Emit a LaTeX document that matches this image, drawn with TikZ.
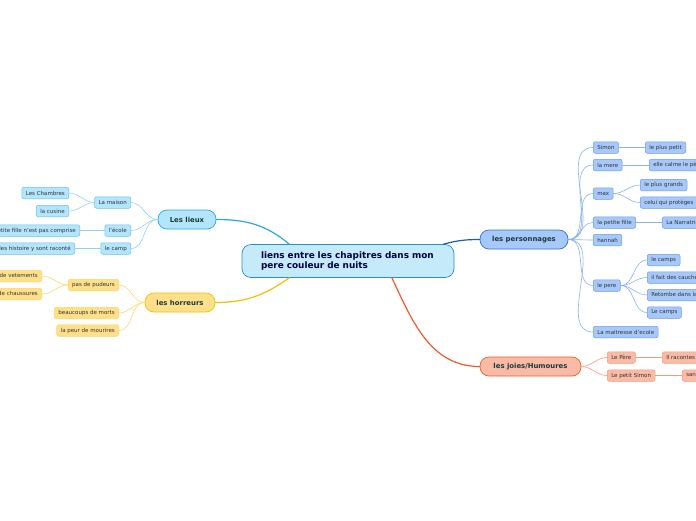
\documentclass[tikz,border=0pt]{standalone}
\usepackage{fontspec}
\setmainfont{DejaVu Sans}
\usetikzlibrary{positioning}
\definecolor{centrefill}{HTML}{C5EBFB}
\definecolor{centredraw}{HTML}{2F8AD0}
\definecolor{lieuxfill}{HTML}{B3E5FC}
\definecolor{lieuxdraw}{HTML}{2AA8E0}
\definecolor{lieuxline}{HTML}{8ED3F5}
\definecolor{horrfill}{HTML}{FFE08A}
\definecolor{horrdraw}{HTML}{F5BE00}
\definecolor{horrline}{HTML}{FFD766}
\definecolor{persfill}{HTML}{A6C8FA}
\definecolor{persdraw}{HTML}{2F6FD8}
\definecolor{persline}{HTML}{8AB0F0}
\definecolor{joiefill}{HTML}{F9BBA5}
\definecolor{joiedraw}{HTML}{EF5A2B}
\definecolor{joieline}{HTML}{F49A7C}
\definecolor{topictext}{HTML}{1B3A3A}
\tikzset{every picture/.append style={line cap=round}}

\begin{document}
\begin{tikzpicture}[x=1pt, y=-1pt,
    centre/.style={draw=centredraw, fill=centrefill, line width=0.7pt, rounded corners=9pt,
        minimum width=212pt, minimum height=33pt, inner xsep=19pt, text width=174pt,
        align=left, text=blue!25!black, font=\fontsize{8.9}{10.5}\selectfont\bfseries},
    topic/.style={line width=0.7pt, rounded corners=9pt, minimum height=19pt,
        text=topictext, font=\fontsize{6.9}{8}\selectfont\bfseries},
    sub/.style={line width=0.5pt, rounded corners=2pt, minimum height=11.5pt, inner xsep=4pt,
        inner ysep=1pt, text=black!80, font=\fontsize{5.5}{6.5}\selectfont},
    lieuxsub/.style={sub, draw=lieuxdraw!70, fill=lieuxfill},
    horrsub/.style={sub, draw=horrdraw!60, fill=horrfill},
    perssub/.style={sub, draw=persdraw!70, fill=persfill},
    joiesub/.style={sub, draw=joiedraw!60, fill=joiefill},
    lieuxlink/.style={draw=lieuxline, line width=0.6pt},
    horrlink/.style={draw=horrline, line width=0.6pt},
    perslink/.style={draw=persline, line width=0.6pt},
    joielink/.style={draw=joieline, line width=0.6pt}]
    \useasboundingbox (0,0) rectangle (696,520);

    % Centre
    \node[centre] (centre) at (348,261) {liens entre les chapitres dans mon\\pere couleur de nuits};

    % Main topics
    \node[topic, draw=lieuxdraw, fill=lieuxfill, minimum width=58pt] (lieux) at (187,219.5) {Les lieux};
    \node[topic, draw=horrdraw, fill=horrfill, minimum width=70pt] (horreurs) at (180,302.5) {les horreurs};
    \node[topic, draw=persdraw, fill=persfill, minimum width=88pt] (perso) at (524,239.5) {les personnages};
    \node[topic, draw=joiedraw, fill=joiefill, minimum width=101pt] (joies) at (530.5,366.5) {les joies/Humoures};

    \draw[draw=lieuxdraw, line width=1.2pt] (centre.164) to[out=140,in=0] (lieux.east);
    \draw[draw=horrdraw, line width=1.2pt] (centre.196) to[out=215,in=0] (horreurs.east);
    \draw[draw=persdraw!80!black, line width=1.2pt] (centre.10) to[out=15,in=180] (perso.west);
    \draw[draw=joiedraw, line width=1.2pt] (centre.-21) to[out=-65,in=180] (joies.west);

    % Les lieux
    \node[lieuxsub, anchor=east] (maison) at (131,202.5) {La maison};
    \node[lieuxsub, anchor=east] (ecole) at (131,230.5) {l'école};
    \node[lieuxsub, anchor=east] (camp) at (131,248.5) {le camp};
    \node[lieuxsub, anchor=east] (chambres) at (69,193) {Les Chambres};
    \node[lieuxsub, anchor=east] (cusine) at (69,211) {la cusine};
    \node[lieuxsub, anchor=east] (comprise) at (80,230.5) {la petite fille n'est pas comprise};
    \node[lieuxsub, anchor=east] (raconte) at (75,248.5) {les histoire y sont raconté};
    \foreach \c in {maison,ecole,camp}
        \draw[lieuxlink] (lieux.west) to[out=180,in=0] (\c.east);
    \foreach \c in {chambres,cusine}
        \draw[lieuxlink] (maison.west) to[out=180,in=0] (\c.east);
    \draw[lieuxlink] (ecole.west) -- (comprise.east);
    \draw[lieuxlink] (camp.west) -- (raconte.east);

    % les horreurs
    \node[horrsub, anchor=east] (pudeurs) at (119,285) {pas de pudeurs};
    \node[horrsub, anchor=east] (morts) at (119,313) {beaucoups de morts};
    \node[horrsub, anchor=east] (mourir) at (119,330.5) {la peur de mourires};
    \node[horrsub, anchor=east] (vetements) at (42,276) {pas de vetements};
    \node[horrsub, anchor=east] (chaussures) at (42,294) {pas de chaussures};
    \foreach \c in {pudeurs,morts,mourir}
        \draw[horrlink] (horreurs.west) to[out=180,in=0] (\c.east);
    \foreach \c in {vetements,chaussures}
        \draw[horrlink] (pudeurs.west) to[out=180,in=0] (\c.east);

    % les personnages
    \node[perssub, anchor=west] (simon) at (593,147.5) {Simon};
    \node[perssub, anchor=west] (mere) at (593,165) {la mere};
    \node[perssub, anchor=west] (max) at (593,193.5) {max};
    \node[perssub, anchor=west] (fille) at (593,222.5) {la petite fille};
    \node[perssub, anchor=west] (hannah) at (593,240) {hannah};
    \node[perssub, anchor=west] (pere) at (593,285.5) {le pere};
    \node[perssub, anchor=west] (maitresse) at (593,332) {La maitresse d'ecole};
    \node[perssub, anchor=west] (petit) at (645,147.5) {le plus petit};
    \node[perssub, anchor=west] (calme) at (649,165) {elle calme le père};
    \node[perssub, anchor=west] (grands) at (640,185) {le plus grands};
    \node[perssub, anchor=west] (protege) at (640,202.5) {celui qui protèges};
    \node[perssub, anchor=west] (narratrice) at (662,222.5) {La Narratrice};
    \node[perssub, anchor=west] (camps) at (647,260) {le camps};
    \node[perssub, anchor=west] (cauchemars) at (647,277.5) {il fait des cauchemars};
    \node[perssub, anchor=west] (retombe) at (647,295) {Retombe dans la peur};
    \node[perssub, anchor=west] (camps2) at (647,312.5) {Le camps};
    \foreach \c in {simon,mere,max,fille,hannah,pere,maitresse}
        \draw[perslink] (perso.east) to[out=0,in=180] (\c.west);
    \draw[perslink] (simon.east) -- (petit.west);
    \draw[perslink] (mere.east) -- (calme.west);
    \draw[perslink] (fille.east) -- (narratrice.west);
    \foreach \c in {grands,protege}
        \draw[perslink] (max.east) to[out=0,in=180] (\c.west);
    \foreach \c in {camps,cauchemars,retombe,camps2}
        \draw[perslink] (pere.east) to[out=0,in=180] (\c.west);

    % les joies
    \node[joiesub, anchor=west] (lepere) at (607,357.5) {Le Père};
    \node[joiesub, anchor=west] (petitsimon) at (607,375.5) {Le petit Simon};
    \node[joiesub, anchor=west] (racontes) at (662,357.5) {Il racontes des histoires};
    \node[joiesub, anchor=west] (sans) at (682,375.5) {sans peur};
    \foreach \c in {lepere,petitsimon}
        \draw[joielink] (joies.east) to[out=0,in=180] (\c.west);
    \draw[joielink] (lepere.east) -- (racontes.west);
    \draw[joielink] (petitsimon.east) -- (sans.west);
\end{tikzpicture}
\end{document}
